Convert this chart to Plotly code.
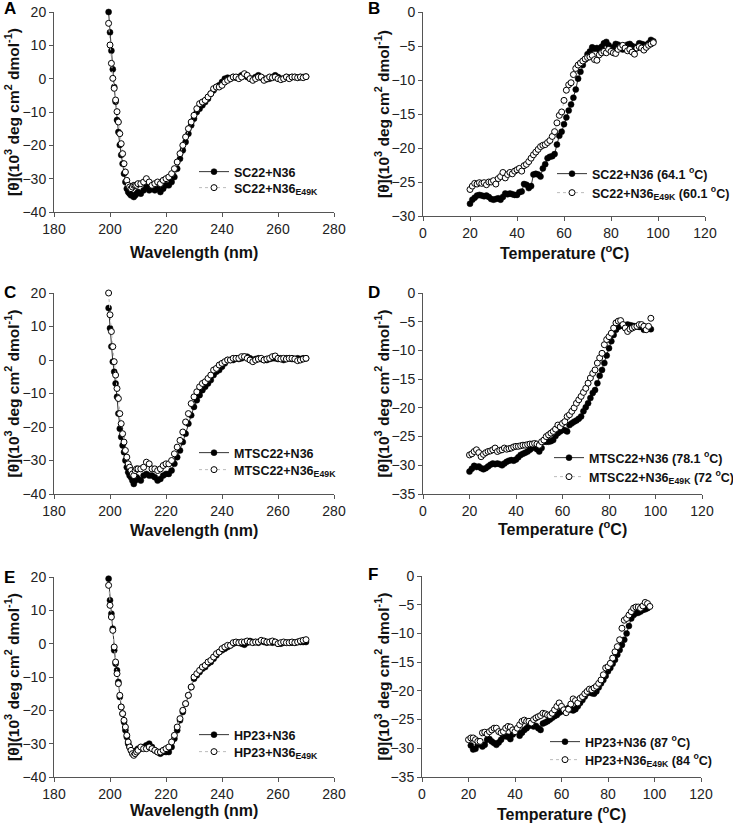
import plotly.graph_objects as go

W, H = 733, 827

# ---------------- DATA ----------------
# CD spectra wavelengths (nm)
wavelength = [199.5 + 0.5 * i for i in range(22)] + list(range(211, 271))

sc22_n36 = [20, 13.9, 8.4, 2.8, -2.5, -6.9, -12.4, -16, -19.9, -22.9, -25.5, -28.5, -31, -33, -34, -34.5, -35, -35, -35.5, -35, -34.5, -34,
            -34.5, -33.5, -32.5, -33.5, -33, -33.5, -33, -34, -33, -32,
            -32, -31, -29.5, -27, -24, -21.5, -19, -16.5, -14, -12,
            -10, -9, -8, -7, -6, -4.5, -3.5, -2.5, -2, -1,
            0, 0.3, 0, 0.5, 0.3, 0.5, 1, 1.2, 0.5, 0,
            0, 0.5, 1, 0.3, 0, -0.2, 0, 0.5, 1, 0.5,
            0, 0, 0.5, 0.3, 0.5, 0.5, 0.3, 0.5, 0.5, 0.6]
sc22_n36e = [16.6, 10.1, 4.6, 0.1, -2.9, -6.4, -9.9, -13, -16.5, -19.5, -22.5, -25.5, -28, -30.5, -32, -32.5, -33, -32.5, -32, -32, -32, -31.5,
             -31.5, -31, -30, -31, -32, -31.5, -31, -31.5, -30.5, -30,
             -29.5, -28.5, -27, -25, -22.5, -20, -17.5, -15, -13, -11,
             -9, -7.5, -7, -6.5, -5.5, -4.5, -3, -2.5, -2.5, -2,
             -1, -0.5, 0, 0.5, 0.5, 0, 0.5, 1.5, 1, 0,
             -0.5, 0, 0.5, 0.5, -0.5, 0, 0.5, 0.3, 0.5, 0,
             -0.3, 0, 0.5, 0, 0.5, 0.5, 0.3, 0.5, 0.3, 0.6]

mtsc22_n36 = [15.5, 9.5, 4, -0.5, -3.5, -7, -11, -16, -20.5, -23, -25.5, -27.5, -30, -32, -33.5, -34.5, -35, -36, -37, -36, -35, -35.5,
              -36, -34.5, -34, -34.5, -34.5, -35, -36, -35.5, -34.5, -34,
              -34, -33, -31, -29, -27, -24.5, -22, -19, -16.5, -14,
              -12, -10.5, -9, -8, -7, -6, -4.5, -3.5, -3, -2,
              -1, 0, 0, 0, 0.5, 0.3, 0.5, 1, 1, 0.5,
              0, 0.3, 0.5, 0.3, 0, 0, 0.3, 0.5, 0.5, 0.3,
              0.5, 0, 0.5, 0.5, 0.3, 0.3, 0.5, 0.3, 0.5, 0.5]
mtsc22_n36e = [20, 13.5, 8.5, 4, -0.5, -4.5, -8.5, -11.5, -16, -19, -22, -24.5, -27, -29, -31, -32, -33, -34, -34.5, -33, -32.5, -32.5,
               -32.5, -32, -30.5, -31, -32.5, -32.5, -33, -32.5, -31.5, -31,
               -31, -30, -28, -26, -24, -21.5, -18.5, -16, -13, -11,
               -9.5, -8, -7, -6.5, -5.5, -4.5, -3, -2.5, -1.5, -1,
               -0.5, 0, 0, 0.5, 0.5, 0.5, 1, 1, 0.5, 0,
               -0.5, 0, 0.3, 0.5, 0, 0.3, 0.5, 1, 1.2, 0.5,
               0.3, 0.5, 0.3, 0.5, 0.5, 0.3, -0.2, 0, 0.3, 0.5]

hp23_n36 = [19.5, 13, 9, 4.5, -2, -6, -8, -11.5, -16, -19, -21, -23.5, -26, -28, -30, -31, -32, -32.5, -32.5, -32.5, -32, -31.5,
            -31.5, -31, -30.5, -30, -31, -32, -32.5, -33, -32.5, -32.5,
            -32.5, -31, -28.5, -26, -23, -20.5, -18, -15.5, -13, -10.5,
            -9.5, -8.5, -7.5, -7, -6, -5.5, -4.5, -3.5, -2.5, -2,
            -1.5, -1, -0.5, 0, 0.3, 0.3, 0, -0.3, 0.3, 0.8,
            0.5, 0.5, 0.3, 0.8, 0.5, 0.3, 0.5, 0.3, 0.5, 0,
            0, 0.3, 0.3, 0.3, 0.3, 0.3, 0.5, 0.5, 0.5, 0.5]
hp23_n36e = [17.5, 11.5, 8, 4, -1, -5.5, -9, -12, -15.5, -19, -21, -23, -25, -27.5, -29.5, -31, -32, -33, -33.5, -33, -32.5, -32,
             -31, -31.5, -31.5, -31, -31.5, -32, -32.5, -32.5, -32, -31.5,
             -31, -29.5, -27.5, -25, -22.5, -20, -18, -15.5, -13, -10,
             -9, -8, -7, -6.5, -5.5, -5, -4, -3, -2.5, -1.5,
             -1, -0.5, -0.5, 0.3, 0.5, 0.3, 0.5, 0.5, 0.8, 0.5,
             0.3, 0.5, 0.5, 1, 0.8, 0.5, 0.5, 0.8, 0.5, 0,
             0.3, 0.5, 0.3, 0.3, 0.5, 0.3, 0.5, 0.8, 1, 1.2]

# Thermal melts (temperature, deg C)
temperature = list(range(20, 99))
temperature_f_n36 = list(range(21, 98))

melt_sc22_n36 = [-28.2, -27.6, -27.3, -27.0, -26.9, -27.0, -27.1, -27.0, -27.2, -27.5,
                 -27.6, -27.5, -27.4, -27.6, -27.2, -26.7, -26.8, -26.7, -26.8, -26.9,
                 -26.9, -26.5, -26.4, -25.3, -25.4, -25.9, -25.6, -23.9, -23.8, -23.9,
                 -24.2, -23.0, -22.4, -21.5, -21.3, -21.2, -20.9, -19.5, -18.2, -17.6,
                 -16.5, -15.5, -14.5, -13.6, -12.6, -11.4, -9.8, -8.8, -7.8, -7.0,
                 -6.2, -5.8, -5.2, -5.4, -5.3, -5.6, -5.1, -4.6, -4.4, -4.9,
                 -5.5, -5.2, -4.7, -4.8, -5.4, -5.5, -5.2, -4.8, -4.7, -5.0,
                 -5.6, -5.1, -4.6, -4.7, -4.8, -4.9, -4.6, -4.1, -4.3]
melt_sc22_n36e = [-26.1, -25.6, -25.2, -25.3, -25.1, -25.2, -25.1, -25.4, -25.0, -25.0,
                  -24.8, -25.3, -24.5, -24.2, -23.6, -24.4, -23.9, -23.6, -23.8, -23.4,
                  -23.2, -23.0, -23.4, -22.6, -22.4, -22.0, -21.5, -21.0, -20.6, -20.2,
                  -19.8, -19.6, -19.5, -19.2, -18.9, -18.3, -17.6, -16.3, -15.2, -14.7,
                  -13.0, -11.5, -10.7, -10.4, -9.2, -8.3, -7.8, -7.5, -7.2, -6.9,
                  -6.7, -6.6, -6.4, -7.0, -7.1, -6.3, -6.0, -5.8, -6.0, -5.5,
                  -5.8, -6.0, -6.1, -5.5, -5.2, -4.9, -5.3, -5.7, -5.5, -5.9,
                  -6.2, -5.3, -5.1, -5.3, -5.6, -5.2, -4.9, -4.7, -4.5]

melt_mtsc22_n36 = [-31.1, -30.6, -30.1, -30.3, -30.2, -30.5, -30.7, -30.5, -30.2, -29.9,
                   -29.7, -29.8, -29.7, -29.8, -30.0, -29.7, -29.4, -29.2, -29.1, -29.2,
                   -29.0, -28.6, -28.2, -28.0, -27.8, -27.6, -27.3, -27.0, -26.6, -27.2,
                   -27.6, -27.0, -25.9, -25.9, -25.9, -25.8, -25.6, -24.9, -24.4, -24.1,
                   -23.8, -23.9, -24.1, -23.0, -22.7, -22.4, -22.2, -21.9, -21.5, -20.6,
                   -19.9, -19.2, -18.3, -17.4, -16.9, -15.7, -14.4, -13.4, -12.2, -10.9,
                   -9.6, -8.4, -7.3, -6.4, -5.9, -5.7, -5.7, -5.6, -5.5, -5.6,
                   -5.7, -5.8, -5.8, -5.9, -5.9, -6.4, -5.9, -6.1, -6.3]
melt_mtsc22_n36e = [-28.2, -28.0, -27.6, -27.3, -27.8, -28.5, -28.1, -27.8, -27.6, -27.5,
                    -27.3, -27.0, -27.6, -27.4, -27.3, -27.0, -27.2, -27.1, -27.0, -26.8,
                    -26.7, -26.7, -26.6, -26.5, -26.5, -26.4, -26.3, -26.3, -26.2, -26.3,
                    -26.5, -25.9, -25.6, -25.0, -24.7, -24.4, -24.1, -23.7, -23.0, -23.3,
                    -22.7, -22.4, -21.5, -21.2, -20.6, -20.0, -19.2, -18.6, -18.0, -17.3,
                    -16.6, -15.7, -14.8, -14.0, -13.4, -12.2, -11.3, -10.5, -9.0, -8.1,
                    -7.6, -7.0, -6.1, -5.2, -4.9, -4.8, -5.5, -6.1, -6.7, -6.3,
                    -6.1, -5.9, -5.8, -5.5, -5.5, -5.8, -6.4, -5.8, -4.4]

melt_hp23_n36 = [-29.5, -30.2, -30.1, -29.4, -29.1, -29.7, -29.4, -28.5, -28.4, -28.8,
                 -29.1, -29.4, -29.0, -28.5, -27.9, -27.9, -28.0, -28.4, -27.6, -27.2,
                 -27.1, -27.8, -27.3, -26.8, -26.5, -26.1, -25.6, -26.2, -26.1, -26.5,
                 -26.8, -25.7, -25.5, -25.3, -25.0, -24.7, -24.4, -24.2, -23.8, -23.6,
                 -23.3, -23.2, -23.0, -23.3, -23.4, -23.2, -22.7, -22.1, -21.6, -21.0,
                 -20.4, -20.1, -20.4, -20.5, -20.1, -19.4, -18.7, -18.1, -17.4, -16.6,
                 -16.0, -15.3, -14.6, -13.7, -12.9, -12.0, -11.1, -10.0, -8.7, -7.4,
                 -6.8, -6.5, -6.4, -6.2, -5.9, -5.8, -5.6]
melt_hp23_n36e = [-28.5, -28.2, -28.2, -28.5, -28.8, -28.8, -27.3, -27.2, -27.5, -27.1,
                  -26.8, -26.5, -26.5, -27.1, -27.3, -27.1, -26.5, -26.2, -26.3, -26.8,
                  -27.1, -26.5, -25.9, -25.3, -25.1, -25.3, -25.3, -25.6, -25.0, -24.7,
                  -24.5, -24.3, -23.9, -24.0, -24.2, -24.3, -23.9, -23.3, -22.7, -22.1,
                  -22.7, -23.3, -23.8, -23.2, -22.3, -21.4, -21.7, -22.1, -21.3, -21.0,
                  -20.5, -20.1, -19.7, -19.8, -19.5, -19.2, -18.7, -18.1, -17.2, -16.0,
                  -15.8, -15.2, -14.3, -13.2, -12.3, -11.1, -9.1, -7.7, -7.4, -6.8,
                  -6.2, -5.6, -5.4, -5.4, -5.6, -5.2, -4.6, -4.8, -5.3]

# labels
panel_letters = ["A", "B", "C", "D", "E", "F"]
names_n36 = ["SC22+N36", "SC22+N36 (64.1 <sup>o</sup>C)",
             "MTSC22+N36", "MTSC22+N36 (78.1 <sup>o</sup>C)",
             "HP23+N36", "HP23+N36 (87 <sup>o</sup>C)"]
names_e49k = ["SC22+N36<sub>E49K</sub>", "SC22+N36<sub>E49K</sub> (60.1 <sup>o</sup>C)",
              "MTSC22+N36<sub>E49K</sub>", "MTSC22+N36<sub>E49K</sub> (72 <sup>o</sup>C)",
              "HP23+N36<sub>E49K</sub>", "HP23+N36<sub>E49K</sub> (84 <sup>o</sup>C)"]
xtitle_cd = "Wavelength (nm)"
xtitle_t = "Temperature (<sup>o</sup>C)"
ytitle = "[θ](10<sup>3</sup> deg cm<sup>2</sup> dmol<sup>-1</sup>)"

# ---------------- LAYOUT GEOMETRY (pixels) ----------------
# leg = (legend left x, top of row 1, top of row 2)
panels = [
    dict(x=(54, 334), y=(12, 212), xr=[180, 280], yr=[-40, 20], ydt=10, kind="cd",
         data=(wavelength, sc22_n36, wavelength, sc22_n36e), leg=(194, 157, 173), xt_y=252, yt_x=12, let=(2, 8)),
    dict(x=(423, 705), y=(12, 216), xr=[0, 120], yr=[-30, 0], ydt=5, kind="t",
         data=(temperature, melt_sc22_n36, temperature, melt_sc22_n36e), leg=(552, 159, 178), xt_y=252, yt_x=382, let=(366, 8)),
    dict(x=(54, 334), y=(293, 494), xr=[180, 280], yr=[-40, 20], ydt=10, kind="cd",
         data=(wavelength, mtsc22_n36, wavelength, mtsc22_n36e), leg=(194, 438, 455), xt_y=530, yt_x=12, let=(2, 292)),
    dict(x=(423, 702), y=(293, 494), xr=[0, 120], yr=[-35, 0], ydt=5, kind="t",
         data=(temperature, melt_mtsc22_n36, temperature, melt_mtsc22_n36e), leg=(549, 443, 462), xt_y=528, yt_x=382, let=(366, 292)),
    dict(x=(54, 334), y=(577, 777), xr=[180, 280], yr=[-40, 20], ydt=10, kind="cd",
         data=(wavelength, hp23_n36, wavelength, hp23_n36e), leg=(194, 720, 737), xt_y=810, yt_x=12, let=(2, 577)),
    dict(x=(422, 701), y=(576, 777), xr=[0, 120], yr=[-35, 0], ydt=5, kind="t",
         data=(temperature_f_n36, melt_hp23_n36, temperature, melt_hp23_n36e), leg=(545, 727, 745), xt_y=813, yt_x=382, let=(366, 574)),
]

FONT = "Arial, Liberation Sans, sans-serif"

fig = go.Figure()
layout = dict(width=W, height=H, margin=dict(l=0, r=0, t=0, b=0, autoexpand=False), autosize=False,
              paper_bgcolor="white", plot_bgcolor="white", showlegend=True,
              font=dict(family=FONT, color="#111"))
annotations = []

for i, p in enumerate(panels):
    k = i + 1
    xa = "xaxis" if k == 1 else f"xaxis{k}"
    ya = "yaxis" if k == 1 else f"yaxis{k}"
    xref = "x" if k == 1 else f"x{k}"
    yref = "y" if k == 1 else f"y{k}"
    lg1 = "legend" if k == 1 else f"legend{2 * k - 1}"
    lg2 = f"legend{2 * k}"
    x0, x1 = p["x"]
    t0, t1 = p["y"]
    axis_common = dict(showline=True, linecolor="#555", linewidth=1, ticks="outside", ticklen=4,
                       tickcolor="#555", showgrid=False, zeroline=False, mirror=False,
                       tickfont=dict(family=FONT, size=14, color="#222"), fixedrange=True)
    layout[xa] = dict(domain=[x0 / W, x1 / W], range=p["xr"], dtick=20, tick0=0, anchor=yref, **axis_common)
    layout[ya] = dict(domain=[1 - t1 / H, 1 - t0 / H], range=p["yr"], dtick=p["ydt"], tick0=0, anchor=xref, **axis_common)

    xs1, ys1, xs2, ys2 = p["data"]
    fig.add_trace(go.Scatter(x=xs1, y=ys1, mode="lines+markers", name=names_n36[i],
                             xaxis=xref, yaxis=yref, legend=lg1, cliponaxis=False,
                             line=dict(color="#333", width=1),
                             marker=dict(symbol="circle", size=6, color="black", line=dict(color="black", width=0.5))))
    fig.add_trace(go.Scatter(x=xs2, y=ys2, mode="lines+markers", name=names_e49k[i],
                             xaxis=xref, yaxis=yref, legend=lg2, cliponaxis=False,
                             line=dict(color="#bbb", width=1, dash="dot"),
                             marker=dict(symbol="circle", size=6, color="white", line=dict(color="black", width=1))))
    lx, ly1, ly2 = p["leg"]
    for lg, ly in ((lg1, ly1), (lg2, ly2)):
        layout[lg] = dict(x=lx / W, y=1 - ly / H, xanchor="left", yanchor="top", bgcolor="rgba(0,0,0,0)",
                          font=dict(family=FONT, size=12.5, color="#111", weight="bold"),
                          itemwidth=30, tracegroupgap=0)

    # axis titles
    annotations.append(dict(text=xtitle_cd if p["kind"] == "cd" else xtitle_t, xref="paper", yref="paper",
                            x=(x0 + x1) / 2 / W, y=1 - p["xt_y"] / H, xanchor="center", yanchor="middle",
                            showarrow=False, font=dict(family=FONT, size=16, color="#111", weight="bold")))
    annotations.append(dict(text=ytitle, xref="paper", yref="paper", textangle=-90,
                            x=p["yt_x"] / W, y=1 - ((t0 + t1) / 2) / H, xanchor="center", yanchor="middle",
                            showarrow=False, font=dict(family=FONT, size=15.5, color="#111", weight="bold")))
    # panel letter
    lxp, lyp = p["let"]
    annotations.append(dict(text=panel_letters[i], xref="paper", yref="paper",
                            x=lxp / W, y=1 - lyp / H, xanchor="left", yanchor="middle",
                            showarrow=False, font=dict(family=FONT, size=17, color="black", weight="bold")))

layout["annotations"] = annotations
fig.update_layout(**layout)
fig.write_html("out.html", config={"displayModeBar": False},
               post_script="document.body.style.margin='0';document.body.style.overflow='hidden';")
